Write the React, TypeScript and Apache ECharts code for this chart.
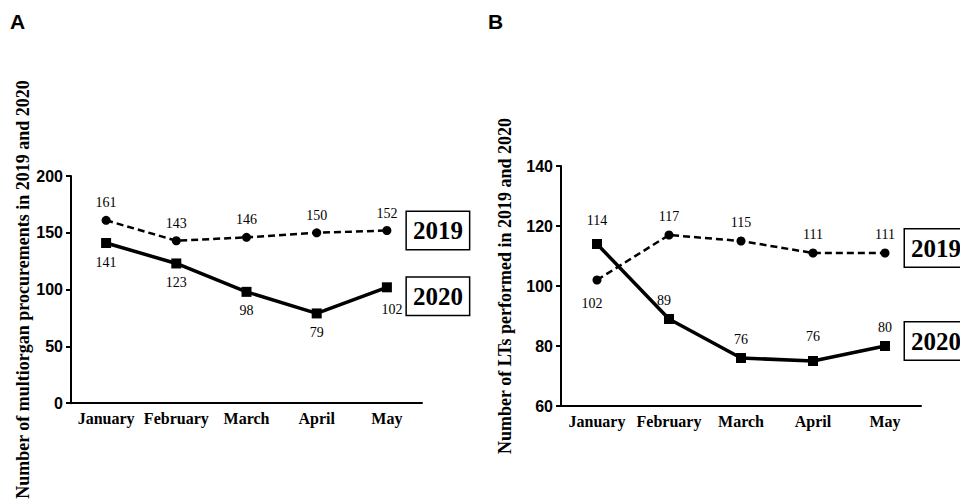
import React, { useEffect, useRef } from "react";
import * as echarts from "echarts";

const months = ["January", "February", "March", "April", "May"];

const procurements2019 = [161, 143, 146, 150, 152];
const procurements2020 = [141, 123, 98, 79, 102];

const lt2019 = [102, 117, 115, 111, 111];
const lt2020 = [114, 89, 76, 75, 80];
const lt2020Labels = ["114", "89", "76", "76", "80"];

const procurementTicks = [0, 50, 100, 150, 200];
const ltTicks = [60, 80, 100, 120, 140];

const seriesNames = ["2019", "2020"];

const SERIF = "'Liberation Serif', 'Times New Roman', serif";
const SANS = "'Liberation Sans', Arial, sans-serif";

export default function App() {
  const ref = useRef<HTMLDivElement>(null);

  useEffect(() => {
    if (!ref.current) return;
    const chart = echarts.init(ref.current, undefined, { renderer: "svg" });

    const xAxisCommon = {
      type: "category" as const,
      data: months,
      boundaryGap: true,
      axisLine: { lineStyle: { color: "#000", width: 2 } },
      axisTick: { show: false },
      axisLabel: {
        color: "#000",
        fontFamily: SERIF,
        fontWeight: "bold" as const,
        fontSize: 16,
        margin: 7,
        interval: 0,
      },
    };

    const yAxisCommon = {
      type: "value" as const,
      nameLocation: "middle" as const,
      nameTextStyle: {
        color: "#000",
        fontFamily: SERIF,
        fontWeight: "bold" as const,
        fontSize: 18,
      },
      axisLine: { show: true, lineStyle: { color: "#000", width: 2 } },
      axisTick: { show: true, length: 5, lineStyle: { color: "#000", width: 2 } },
      splitLine: { show: false },
      axisLabel: {
        color: "#000",
        fontFamily: SANS,
        fontWeight: "bold" as const,
        fontSize: 16,
        margin: 8,
      },
    };

    const dataLabel = (pos: string, dist: number) => ({
      show: true,
      position: pos,
      distance: dist,
      color: "#000",
      fontFamily: SERIF,
      fontSize: 14,
    });

    const endLabel = (name: string, dy: number) => ({
      show: true,
      formatter: name,
      color: "#000",
      fontFamily: SERIF,
      fontWeight: "bold" as const,
      fontSize: 25,
      lineHeight: 27,
      backgroundColor: "#fff",
      borderColor: "#000",
      borderWidth: 1.5,
      padding: [5, 6, 5, 6],
      distance: 20,
      offset: [0, dy],
    });

    const line2019 = { color: "#000", width: 2.5, type: [7, 4] as number[] };
    const line2020 = { color: "#000", width: 3.5, type: "solid" as const };

    const option = {
      animation: false,
      backgroundColor: "#fff",
      graphic: [
        {
          type: "text",
          left: 10,
          top: 11,
          style: { text: "A", font: `bold 21px ${SANS}`, fill: "#000" },
        },
        {
          type: "text",
          left: 488,
          top: 11,
          style: { text: "B", font: `bold 21px ${SANS}`, fill: "#000" },
        },
      ],
      grid: [
        { left: 71, right: 538, top: 176, bottom: 92 },
        { left: 561, right: 39, top: 166, bottom: 95 },
      ],
      xAxis: [
        { ...xAxisCommon, gridIndex: 0 },
        { ...xAxisCommon, gridIndex: 1 },
      ],
      yAxis: [
        {
          ...yAxisCommon,
          gridIndex: 0,
          min: procurementTicks[0],
          max: procurementTicks[procurementTicks.length - 1],
          interval: procurementTicks[1] - procurementTicks[0],
          name: "Number of multiorgan procurements in 2019 and 2020",
          nameGap: 38,
        },
        {
          ...yAxisCommon,
          gridIndex: 1,
          min: ltTicks[0],
          max: ltTicks[ltTicks.length - 1],
          interval: ltTicks[1] - ltTicks[0],
          name: "Number of LTs performed in 2019 and 2020",
          nameGap: 47,
        },
      ],
      series: [
        {
          name: seriesNames[0],
          type: "line",
          xAxisIndex: 0,
          yAxisIndex: 0,
          data: procurements2019,
          symbol: "circle",
          symbolSize: 9,
          itemStyle: { color: "#000" },
          lineStyle: line2019,
          label: dataLabel("top", 6),
          endLabel: endLabel(seriesNames[0], 0),
          z: 3,
        },
        {
          name: seriesNames[1],
          type: "line",
          xAxisIndex: 0,
          yAxisIndex: 0,
          data: procurements2020.map((v, i) =>
            i === procurements2020.length - 1
              ? { value: v, label: { offset: [5, 3] } }
              : v
          ),
          symbol: "rect",
          symbolSize: 10,
          itemStyle: { color: "#000" },
          lineStyle: line2020,
          label: dataLabel("bottom", 7),
          endLabel: endLabel(seriesNames[1], 9),
          z: 3,
        },
        {
          name: seriesNames[0],
          type: "line",
          xAxisIndex: 1,
          yAxisIndex: 1,
          data: lt2019.map((v, i) =>
            i === 0
              ? { value: v, label: { position: "bottom", distance: 12, offset: [-5, 0] } }
              : v
          ),
          symbol: "circle",
          symbolSize: 9,
          itemStyle: { color: "#000" },
          lineStyle: line2019,
          label: dataLabel("top", 7),
          endLabel: endLabel(seriesNames[0], -5),
          z: 3,
        },
        {
          name: seriesNames[1],
          type: "line",
          xAxisIndex: 1,
          yAxisIndex: 1,
          data: lt2020.map((v, i) => ({
            value: v,
            label: {
              formatter: lt2020Labels[i],
              ...(i === 0 ? { distance: 12 } : {}),
              ...(i === 1 ? { offset: [-5, 0] } : {}),
              ...(i === 3 ? { distance: 13 } : {}),
            },
          })),
          symbol: "rect",
          symbolSize: 10,
          itemStyle: { color: "#000" },
          lineStyle: line2020,
          label: dataLabel("top", 7),
          endLabel: endLabel(seriesNames[1], -5),
          z: 3,
        },
      ],
    };

    chart.setOption(option as any);
    return () => chart.dispose();
  }, []);

  return (
    <div
      ref={ref}
      style={{ position: "fixed", left: 0, top: 0, width: 960, height: 501, background: "#fff" }}
    />
  );
}
